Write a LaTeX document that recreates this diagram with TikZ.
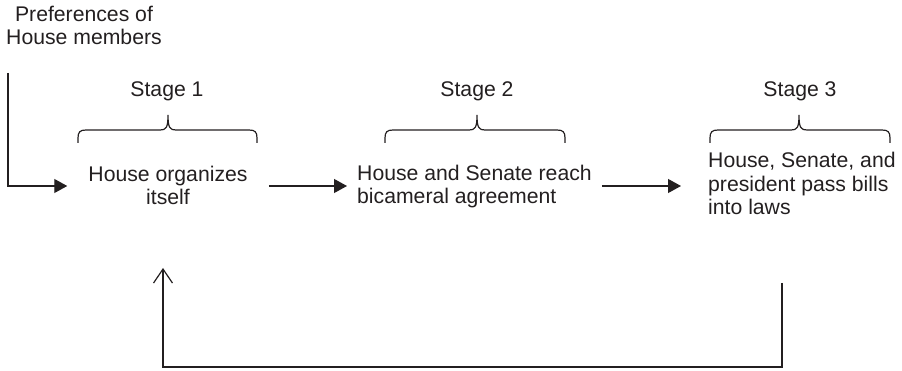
\documentclass[tikz,border=0pt]{standalone}
\usepackage{fontspec}
\setmainfont{Liberation Sans}
\usetikzlibrary{arrows.meta}
\definecolor{ink}{HTML}{231F20}
\newcommand\StageBrace[3]{%
  \draw[bracestyle] (#1,143) -- (#1,138) .. controls (#1,132) and (#1+2,130) .. (#1+8,130)
    -- (#2-8,130) .. controls (#2-2,130) and (#2,128) .. (#2,115)
    .. controls (#2,128) and (#2+2,130) .. (#2+8,130)
    -- (#3-8,130) .. controls (#3-2,130) and (#3,132) .. (#3,138) -- (#3,143);}
\begin{document}
\begin{tikzpicture}[x=1pt,y=-1pt,
  every node/.style={font=\fontsize{21.2}{23.5}\selectfont, text=ink, inner ysep=0pt},
  lbl/.style={anchor=base, inner xsep=0pt},
  bracestyle/.style={draw=ink, line width=1.2pt},
  flow/.style={draw=ink, line width=1.2pt, -{Triangle[length=13pt,width=14pt]}},
  back/.style={draw=ink, line width=1.2pt, -{Straight Barb[length=14pt,width=19pt]}}]
\useasboundingbox (0,0) rectangle (902,371);
% texts (base anchor = baseline of the last line)
\node[lbl, align=center] (pref) at (84,45) {Preferences of\\House members};
\node[lbl] (s1) at (167,97) {Stage 1};
\node[lbl] (s2) at (477,97) {Stage 2};
\node[lbl] (s3) at (800,97) {Stage 3};
\node[anchor=base, align=center, inner xsep=21pt] (n1) at (168,205) {House organizes\\itself};
\node[anchor=base west, align=left, inner xsep=10pt] (n2) at (347,204) {House and Senate reach\\bicameral agreement};
\node[anchor=base west, align=left, inner xsep=27pt] (n3) at (681,215) {House, Senate, and\\president pass bills\\into laws};
% braces
\StageBrace{78}{168}{257}
\StageBrace{385}{477}{565}
\StageBrace{710}{799}{890}
% connectors
\coordinate (ya) at (0,186);
\coordinate (pstart) at (8,73);
\draw[flow] (pstart) |- (n1.west |- ya);
\draw[flow] (n1.east |- ya) -- (n2.west |- ya);
\draw[flow] (n2.east |- ya) -- (n3.west |- ya);
\coordinate (fbstart) at (782,283);
\coordinate (fbcorner) at (782,367);
\coordinate (fbend) at (163,268);
\draw[back] (fbstart) -- (fbcorner) -| (fbend);
\end{tikzpicture}
\end{document}
